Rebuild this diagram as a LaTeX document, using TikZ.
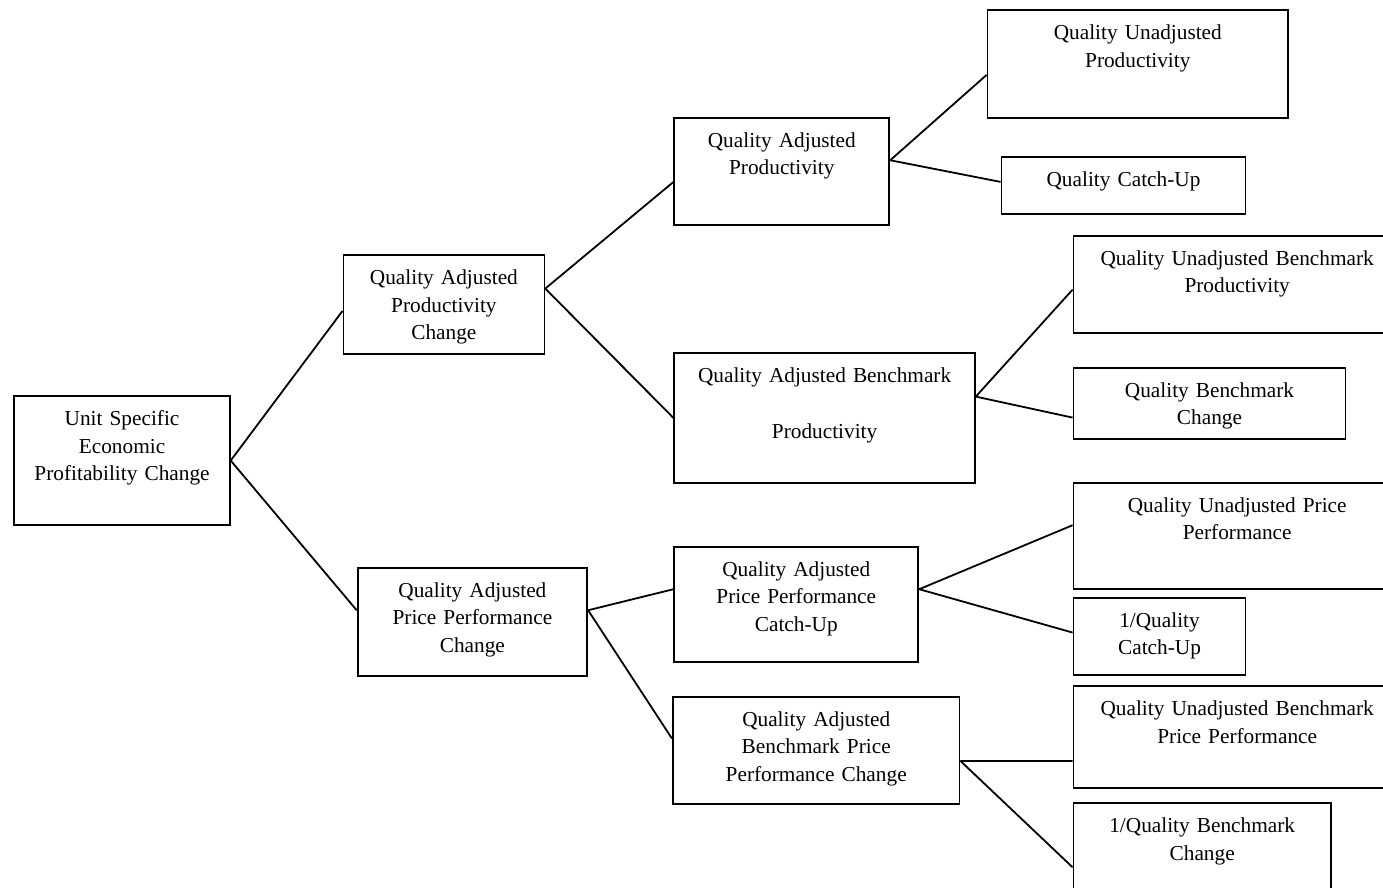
\documentclass[tikz,border=0pt]{standalone}
\usepackage{fontspec}
\setmainfont{Liberation Serif}
\usepackage{tikz}
\tikzset{
    factor/.style={draw, line width=1.8pt, anchor=north west, inner xsep=0pt, inner ysep=0pt,
        align=center, text height=29.5pt, font=\fontsize{21.3pt}{27.7pt}\selectfont},
    link/.style={line width=1.8pt}
}

\begin{document}
\begin{tikzpicture}[x=1pt, y=-1pt]
    \useasboundingbox (0,0) rectangle (1383,887);
    \clip (0,0) rectangle (1383,887);

    % Root
    \node[factor, text width=215.5pt, text depth=99.8pt] (root) at (13.4,395) {Unit Specific\\Economic\\Profitability Change};

    % First split
    \node[factor, text width=201pt, text depth=69.2pt] (qapc) at (342.5,254) {Quality Adjusted\\Productivity\\Change};
    \node[factor, text width=229.6pt, text depth=78.8pt] (qappc) at (356.7,566.7) {Quality Adjusted\\Price Performance\\Change};

    % Second split
    \node[factor, text width=215pt, text depth=77.8pt] (qap) at (673.4,116.7) {Quality Adjusted\\Productivity};
    \node[factor, text width=300.6pt, text depth=99.9pt] (qabp) at (673.4,352.3) {Quality Adjusted Benchmark\\[27.7pt]Productivity};
    \node[factor, text width=244pt, text depth=86.1pt] (qappcu) at (673.4,545.7) {Quality Adjusted\\Price Performance\\Catch-Up};
    \node[factor, text width=286.6pt, text depth=78.1pt] (qabppc) at (672,695.7) {Quality Adjusted\\Benchmark Price\\Performance Change};

    % Leaves
    \node[factor, text width=300.6pt, text depth=77.9pt] (qup) at (986.6,9.3) {Quality Unadjusted\\Productivity};
    \node[factor, text width=244pt, text depth=28.1pt] (qcu) at (1000.6,155.7) {Quality Catch-Up};
    \node[factor, text width=327.4pt, text depth=67.5pt] (qubp) at (1072.6,234.7) {Quality Unadjusted Benchmark\\Productivity};
    \node[factor, text width=272pt, text depth=42.1pt] (qbc) at (1072.6,366.7) {Quality Benchmark\\Change};
    \node[factor, text width=327.4pt, text depth=77.1pt] (qupp) at (1072.6,481.7) {Quality Unadjusted Price\\Performance};
    \node[factor, text width=172pt, text depth=47.8pt] (iqcu) at (1072.6,596.7) {1/Quality\\Catch-Up};
    \node[factor, text width=327.4pt, text depth=72.8pt] (qubpp) at (1072.6,685) {Quality Unadjusted Benchmark\\Price Performance};
    \node[factor, text width=257.4pt, text depth=90.5pt] (iqbc) at (1072.6,802.3) {1/Quality Benchmark\\Change};

    % Connectors
    \draw[link] (root.east) -- ([yshift=-6.7pt]qapc.west);
    \draw[link] (root.east) -- ([yshift=11.5pt]qappc.west);

    \draw[link] ([yshift=15.7pt]qapc.east) -- ([yshift=-10.7pt]qap.west);
    \draw[link] ([yshift=15.7pt]qapc.east) -- (qabp.west);
    \draw[link] ([yshift=11.5pt]qappc.east) -- ([yshift=15.2pt]qappcu.west);
    \draw[link] ([yshift=11.5pt]qappc.east) -- ([yshift=11.8pt]qabppc.west);

    \draw[link] ([yshift=11pt]qap.east) -- ([yshift=-11pt]qup.west);
    \draw[link] ([yshift=11pt]qap.east) -- ([yshift=3.5pt]qcu.west);
    \draw[link] ([yshift=21.3pt]qabp.east) -- ([yshift=-5.5pt]qubp.west);
    \draw[link] ([yshift=21.3pt]qabp.east) -- ([yshift=-14.2pt]qbc.west);
    \draw[link] ([yshift=15.2pt]qappcu.east) -- ([yshift=10.7pt]qupp.west);
    \draw[link] ([yshift=15.2pt]qappcu.east) -- ([yshift=3.7pt]iqcu.west);
    \draw[link] ([yshift=-10.5pt]qabppc.east) -- ([yshift=-23.9pt]qubpp.west);
    \draw[link] ([yshift=-10.5pt]qabppc.east) -- ([yshift=-65pt]iqbc.north west);
\end{tikzpicture}
\end{document}
